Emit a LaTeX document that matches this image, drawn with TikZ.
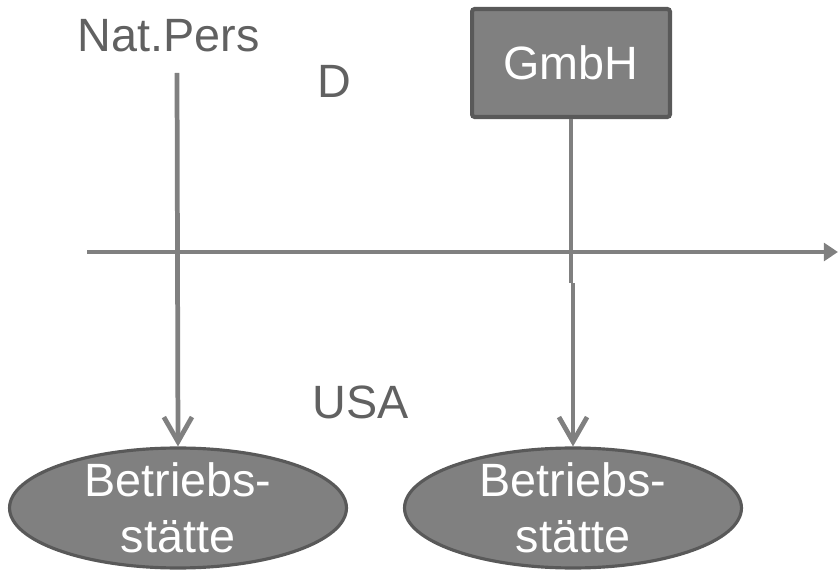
\documentclass[tikz,border=0pt]{standalone}
\usepackage{fontspec}
\setmainfont{Liberation Sans}
\usetikzlibrary{arrows.meta}
\usetikzlibrary{shapes.geometric}

\begin{document}
\begin{tikzpicture}[x=0.02cm,y=-0.02cm,
  lbl/.style={text=black!62,font=\fontsize{26.6}{30}\selectfont,inner sep=0pt},
  ln/.style={draw=black!50,line width=2.7pt},
  bs/.style={ellipse,fill=black!50,draw=black!65,line width=1.8pt,minimum width=6.74cm,minimum height=2.4cm,inner xsep=0pt,inner ysep=-12pt,text=white,align=center,font=\fontsize{26.6}{31.7}\selectfont}]
\useasboundingbox (0,0) rectangle (838,570);

\node[lbl] (n) at (168.5,36) {Nat.Pers};
\node[lbl] (d) at (334,81) {D};
\node[lbl] (u) at (361,402) {USA};
\node[fill=black!50,draw=black!65,line width=2.3pt,rounded corners=1.5pt,minimum width=3.96cm,minimum height=2.16cm,text=white,font=\fontsize{26.6}{30}\selectfont] (g) at (571,63) {GmbH};

\node[bs] (b1) at (178,508) {Betriebs-\\stätte};
\node[bs] (b2) at (573,508) {Betriebs-\\stätte};

\coordinate (p1) at (177,73);
\coordinate (j1) at (571,283);
\coordinate (j2) at (573,283);
\coordinate (a1) at (87,252);
\coordinate (a2) at (838,252);

\draw[ln,-{Triangle[length=8pt,width=10pt]}] (a1) -- (a2);
\draw[ln,-{Straight Barb[length=14pt,width=16pt]}] (p1) -- (b1.north);
\draw[ln] (g.south) -- (j1);
\draw[ln,-{Straight Barb[length=14pt,width=16pt]}] (j2) -- (b2.north);

\end{tikzpicture}
\end{document}
